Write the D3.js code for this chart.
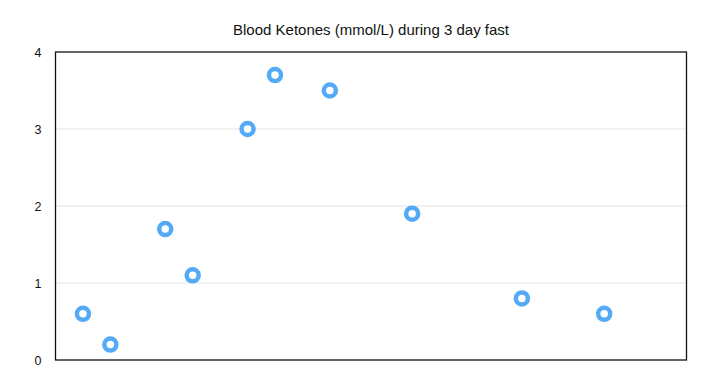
<!DOCTYPE html>
<html>
<head>
<meta charset="utf-8">
<script src="https://cdn.jsdelivr.net/npm/d3@7"></script>
<style>
  body { margin: 0; background: #fff; }
  #chart { width: 714px; height: 388px; }
</style>
</head>
<body>
<div id="chart"></div>
<script>
const title = "Blood Ketones (mmol/L) during 3 day fast";
// x position of each reading (unit steps along the fast)
const readingX = [1, 2, 4, 5, 7, 8, 10, 13, 17, 20];
const ketones = [0.6, 0.2, 1.7, 1.1, 3.0, 3.7, 3.5, 1.9, 0.8, 0.6];
const yTicks = [0, 1, 2, 3, 4];

const width = 714, height = 388;
const margin = { left: 55.5, right: 27.5, top: 52, bottom: 28 };

const svg = d3.select("#chart").append("svg")
  .attr("width", width).attr("height", height)
  .style("font-family", "Helvetica, Arial, 'Liberation Sans', sans-serif");

const xScale = d3.scaleLinear().domain([0, 23]).range([margin.left, width - margin.right]);
const yScale = d3.scaleLinear().domain([0, 4]).range([height - margin.bottom, margin.top]);

// title
svg.append("text")
  .attr("x", 371).attr("y", 35)
  .attr("text-anchor", "middle")
  .style("font-size", "15px").attr("fill", "#111")
  .text(title);

// gridlines
svg.append("g")
  .selectAll("line")
  .data(yTicks.filter(d => d > 0 && d < 4))
  .enter().append("line")
    .attr("x1", margin.left).attr("x2", width - margin.right)
    .attr("y1", d => yScale(d)).attr("y2", d => yScale(d))
    .attr("stroke", "#e3e3e3").attr("stroke-width", 1);

// y-axis labels
const yAxis = svg.append("g")
  .attr("transform", `translate(${margin.left - 14}, 0)`)
  .call(d3.axisLeft(yScale).tickValues(yTicks).tickFormat(d3.format("d")).tickSize(0).tickPadding(0));
yAxis.select(".domain").remove();
yAxis.selectAll("text").style("font-size", "12.5px").attr("fill", "#111")
  .style("font-family", "Helvetica, Arial, 'Liberation Sans', sans-serif");

// frame
svg.append("rect")
  .attr("x", margin.left).attr("y", margin.top)
  .attr("width", width - margin.left - margin.right)
  .attr("height", height - margin.top - margin.bottom)
  .attr("fill", "none").attr("stroke", "#111").attr("stroke-width", 1.3);

// points
svg.append("g")
  .selectAll("circle")
  .data(readingX.map((x, i) => ({ x, y: ketones[i] })))
  .enter().append("circle")
    .attr("cx", d => xScale(d.x))
    .attr("cy", d => yScale(d.y))
    .attr("r", 6)
    .attr("fill", "#fff")
    .attr("stroke", "#55aaf7")
    .attr("stroke-width", 4.5);
</script>
</body>
</html>
